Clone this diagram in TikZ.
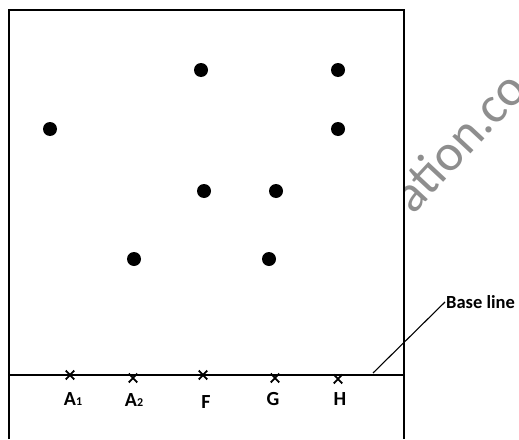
\documentclass[tikz,border=0pt]{standalone}
\usepackage{fontspec}
\setmainfont{Carlito}
\usepackage{xcolor}
\usepackage{tikz}
\usetikzlibrary{shapes.misc}
\definecolor{ink}{HTML}{000000}
\definecolor{stamp}{HTML}{8E8E8E}

\begin{document}
\begin{tikzpicture}[x=1pt,y=-1pt,font=\bfseries]
\tikzset{spot/.style={circle,fill=ink,inner sep=0pt,minimum size=14pt}, xmark/.style={cross out,draw=ink,line width=1.8pt,inner sep=0pt,minimum width=6.5pt,minimum height=7pt}, lbl/.style={inner sep=0pt,font=\fontsize{20}{20}\selectfont\bfseries}, frame/.style={draw=ink,line width=1.1pt}}
\useasboundingbox (0,0) rectangle (519,439);
% faint stamp behind the board
\begin{scope}
\clip (0,0) rectangle (519,439);
\node[stamp,rotate=47,anchor=base west,inner sep=0pt,font=\fontsize{52}{52}\selectfont] (stamp) at (413,216) {ation.co};
\end{scope}
\fill[white] (9,10) rectangle (404,439);
\draw[frame] (9,439) -- (9,10) -- (404,10) -- (404,439);
\draw[frame] (9,375) -- (404,375);
% spots
\foreach \x/\y/\n in {201/70/s1,338/70/s2,50/129/s3,338/129/s4,204/191/s5,276/191/s6,134/259/s7,269/259/s8} {
  \node[spot] (\n) at (\x,\y) {};
}
% points on the base line
\foreach \x/\y/\n in {70/375/A1,133/378/A2,203/375/F,275/378/G,338/379/H} {
  \node[xmark] (x\n) at (\x,\y) {};
}
\node[lbl] (lA1) at (73,399) {A{\fontsize{12}{12}\selectfont 1}};
\node[lbl] (lA2) at (134,400) {A{\fontsize{12}{12}\selectfont 2}};
\node[lbl] (lF) at (206,402) {F};
\node[lbl] (lG) at (273,399) {G};
\node[lbl] (lH) at (340,399) {H};
\node[anchor=west,inner sep=1pt,font=\fontsize{18.5}{18.5}\selectfont\bfseries] (base) at (445,302) {Base line};
\coordinate (foot) at (373,373);
\draw[draw=ink,line width=1.1pt] (foot) -- (base.west);
\end{tikzpicture}
\end{document}
